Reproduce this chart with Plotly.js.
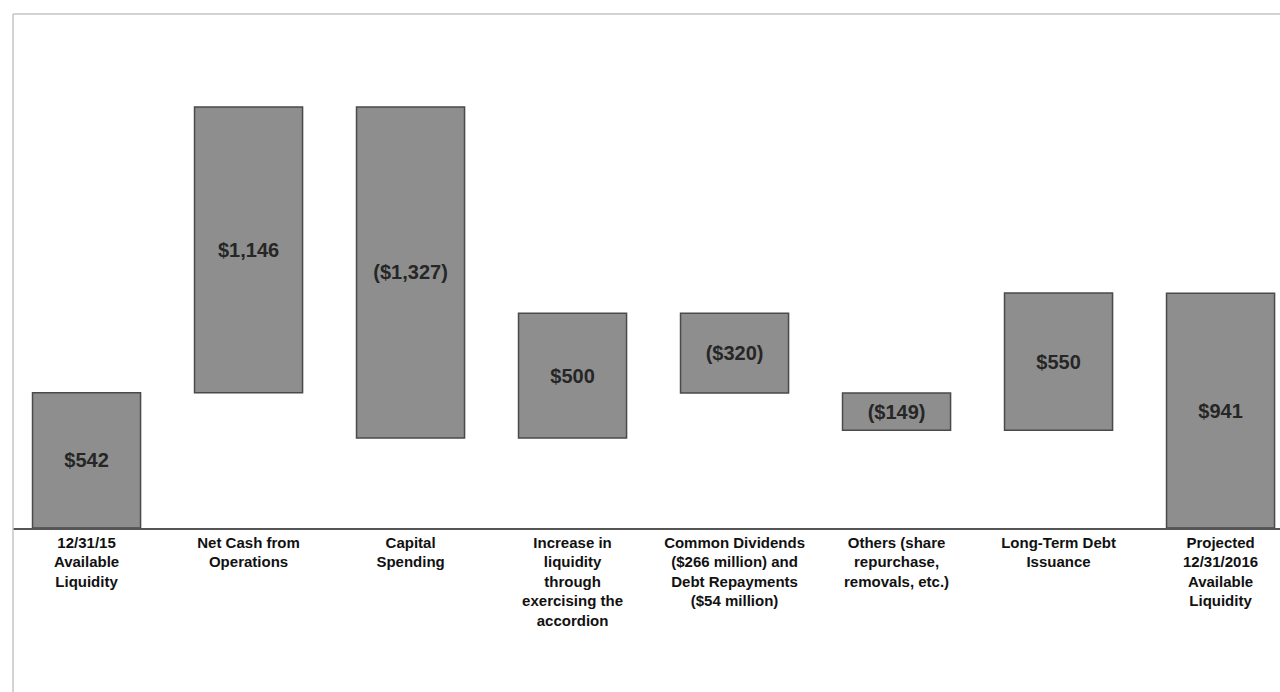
<!DOCTYPE html>
<html>
<head>
<meta charset="utf-8">
<script src="https://cdn.plot.ly/plotly-3.0.1.min.js"></script>
<style>
  html, body { margin: 0; padding: 0; background: #ffffff; }
  #chart { width: 1280px; height: 692px; }
</style>
</head>
<body>
<div id="chart"></div>
<script>
// ---- data ----
const categories = [
  "12/31/15<br>Available<br>Liquidity",
  "Net Cash from<br>Operations",
  "Capital<br>Spending",
  "Increase in<br>liquidity<br>through<br>exercising the<br>accordion",
  "Common Dividends<br>($266 million) and<br>Debt Repayments<br>($54 million)",
  "Others (share<br>repurchase,<br>removals, etc.)",
  "Long-Term Debt<br>Issuance",
  "Projected<br>12/31/2016<br>Available<br>Liquidity"
];
const values = [542, 1146, -1327, 500, -320, -149, 550, 941];
const measures = ["absolute", "relative", "relative", "relative", "relative", "relative", "relative", "absolute"];
const valueLabels = ["$542", "$1,146", "($1,327)", "$500", "($320)", "($149)", "$550", "$941"];

// ---- styling ----
const barFill = "#8e8e8e";
const barEdge = "#4a4a4a";
const barStyle = { marker: { color: barFill, line: { color: barEdge, width: 1.5 } } };

const trace = {
  type: "waterfall",
  x: categories,
  y: values,
  measure: measures,
  text: valueLabels,
  textposition: "inside",
  insidetextanchor: "middle",
  constraintext: "none",
  textfont: { family: "Liberation Sans, Arial, sans-serif", size: 20, color: "#262626", weight: "bold" },
  increasing: barStyle,
  decreasing: barStyle,
  totals: barStyle,
  connector: { visible: false },
  hoverinfo: "skip"
};

const layout = {
  width: 1280,
  height: 692,
  margin: { l: 13, r: 0, t: 14, b: 164, pad: 0 },
  paper_bgcolor: "#ffffff",
  plot_bgcolor: "#ffffff",
  showlegend: false,
  waterfallgap: 0.333,
  xaxis: {
    type: "category",
    range: [-0.454, 7.367],
    showgrid: false,
    zeroline: false,
    showline: true,
    linecolor: "#555555",
    linewidth: 1.5,
    ticks: "",
    tickfont: { family: "Liberation Sans, Arial, sans-serif", size: 15, color: "#111111", weight: "bold" },
    fixedrange: true
  },
  yaxis: {
    range: [0, 2061],
    showgrid: false,
    zeroline: false,
    showline: false,
    showticklabels: false,
    ticks: "",
    fixedrange: true
  },
  shapes: [
    { type: "line", xref: "paper", yref: "paper", x0: 0, x1: 1.05, y0: 1, y1: 1,
      line: { color: "#c4c4c4", width: 1.5 } },
    { type: "line", xref: "paper", yref: "paper", x0: 0, x1: 0, y0: -0.4, y1: 1,
      line: { color: "#c4c4c4", width: 1.5 } }
  ]
};

Plotly.newPlot("chart", [trace], layout, { displayModeBar: false, staticPlot: true });
</script>
</body>
</html>
